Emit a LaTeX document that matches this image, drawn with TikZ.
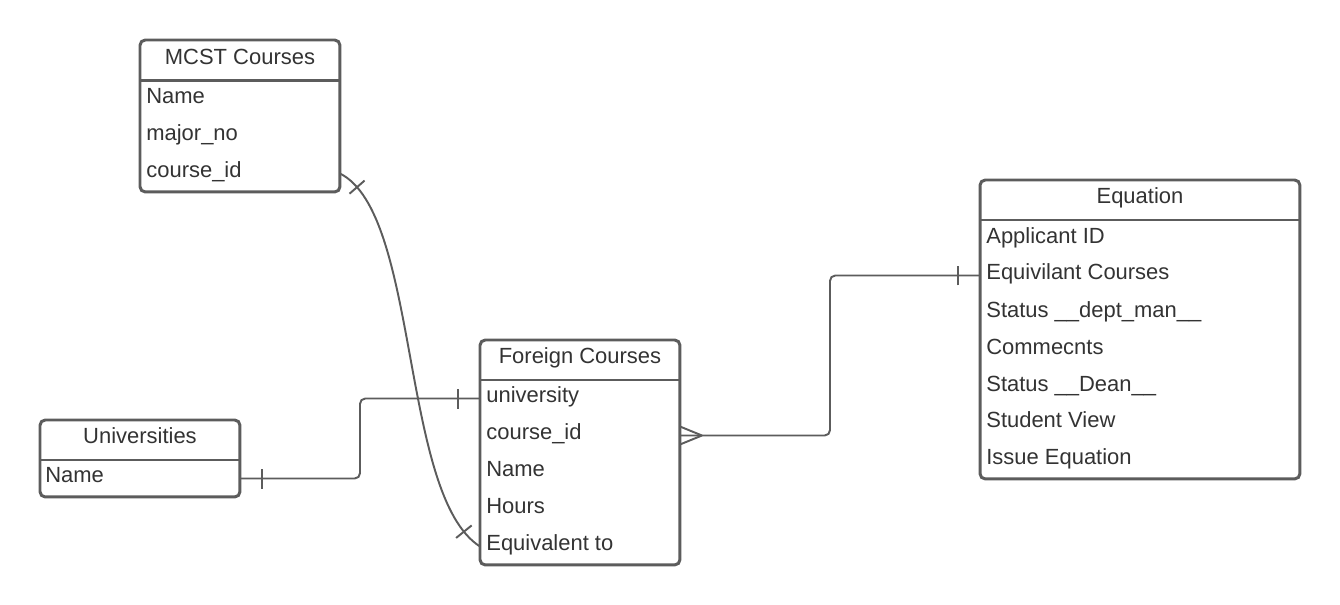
\documentclass[tikz,border=0pt]{standalone}
\usepackage{fontspec}
\setmainfont{Liberation Sans}
\usetikzlibrary{decorations.markings}
\definecolor{lineGray}{HTML}{5C5C5C}
\definecolor{textGray}{HTML}{333333}

\begin{document}
\begin{tikzpicture}[x=0.02cm,y=-0.02cm,%%
  boxStyle/.style={draw=lineGray,line width=1.7pt,rounded corners=3pt,inner sep=0pt,outer sep=0pt,anchor=north west},%%
  headStyle/.style={inner sep=0pt,outer sep=0pt,anchor=north,text=textGray,text height=0.24cm,text depth=0.08cm,font=\fontsize{12.5}{15}\selectfont},%%
  rowStyle/.style={inner sep=0pt,anchor=west,text=textGray,text height=0.24cm,text depth=0.08cm,font=\fontsize{12.5}{15}\selectfont},%%
  dividerStyle/.style={draw=lineGray,line width=1.7pt},%%
  lineStyle/.style={draw=lineGray,line width=1.1pt,rounded corners=3pt},%%
  tickStart/.style={postaction={decorate,decoration={markings,mark=at position 0.44cm with {\draw[lineStyle] (0,-0.2cm) -- (0,0.2cm);}}}},%%
  tickEnd/.style={postaction={decorate,decoration={markings,mark=at position -0.44cm with {\draw[lineStyle] (0,-0.2cm) -- (0,0.2cm);}}}},%%
  crowStart/.style={postaction={decorate,decoration={markings,mark=at position 0.44cm with {\draw[lineStyle] (0,0) -- (-0.44cm,0.18cm) (0,0) -- (-0.44cm,-0.18cm);}}}}%%
]
\useasboundingbox (0,0) rectangle (1340,605);
%%
%% Bends of the connectors.
\coordinate (UniBend) at (360,0);
\coordinate (EqBend) at (830,0);
%%
%% Tables.
\node[boxStyle,minimum width=4cm,minimum height=3.04cm] (MCST) at (140,40) {};
\node[boxStyle,minimum width=4cm,minimum height=1.54cm] (Uni) at (40,420) {};
\node[boxStyle,minimum width=4cm,minimum height=4.5cm] (For) at (480,340) {};
\node[boxStyle,minimum width=6.4cm,minimum height=5.98cm] (Eq) at (980,180) {};
%%
%% Headers of the tables.
\node[headStyle,minimum width=4cm,minimum height=0.82cm] (MCSTHead) at (MCST.north) {MCST Courses};
\node[headStyle,minimum width=4cm,minimum height=0.8cm] (UniHead) at (Uni.north) {Universities};
\node[headStyle,minimum width=4cm,minimum height=0.8cm] (ForHead) at (For.north) {Foreign Courses};
\node[headStyle,minimum width=6.4cm,minimum height=0.8cm] (EqHead) at (Eq.north) {Equation};
\draw[dividerStyle] (MCSTHead.south west) -- (MCSTHead.south east);
\draw[dividerStyle] (UniHead.south west) -- (UniHead.south east);
\draw[dividerStyle] (ForHead.south west) -- (ForHead.south east);
\draw[dividerStyle] (EqHead.south west) -- (EqHead.south east);
%%
%% Rows of the tables.
\node[rowStyle] (MCSTName) at (146,99.5) {Name};
\node[rowStyle] (MCSTMajor) at (146,136.5) {major\_no};
\node[rowStyle] (MCSTCid) at (146,173.5) {course\_id};
%%
\node[rowStyle] (UniName) at (45,478.5) {Name};
%%
\node[rowStyle] (ForUni) at (486,398.5) {university};
\node[rowStyle] (ForCid) at (486,435.5) {course\_id};
\node[rowStyle] (ForName) at (486,472.5) {Name};
\node[rowStyle] (ForHours) at (486,509.5) {Hours};
\node[rowStyle] (ForEquiv) at (486,546.5) {Equivalent to};
%%
\node[rowStyle] (EqApp) at (986,239) {Applicant ID};
\node[rowStyle] (EqCourses) at (986,275.5) {Equivilant Courses};
\node[rowStyle] (EqDept) at (986,313) {Status \_\_dept\_man\_\_};
\node[rowStyle] (EqComm) at (986,350) {Commecnts};
\node[rowStyle] (EqDean) at (986,387) {Status \_\_Dean\_\_};
\node[rowStyle] (EqView) at (986,423.5) {Student View};
\node[rowStyle] (EqIssue) at (986,460.5) {Issue Equation};
%%
%% Relations between the tables.
\draw[lineStyle,tickStart,tickEnd] (UniName.west -| Uni.east) -| (UniBend |- ForUni.west) -- (ForUni.west -| For.west);
\draw[lineStyle,crowStart,tickEnd] (ForCid.west -| For.east) -| (EqBend |- EqCourses.west) -- (EqCourses.west -| Eq.west);
\draw[lineStyle,tickStart,tickEnd] (MCSTCid.west -| MCST.east) .. controls +(80,40) and +(-80,-51) .. (ForEquiv.west -| For.west);
\end{tikzpicture}
\end{document}
